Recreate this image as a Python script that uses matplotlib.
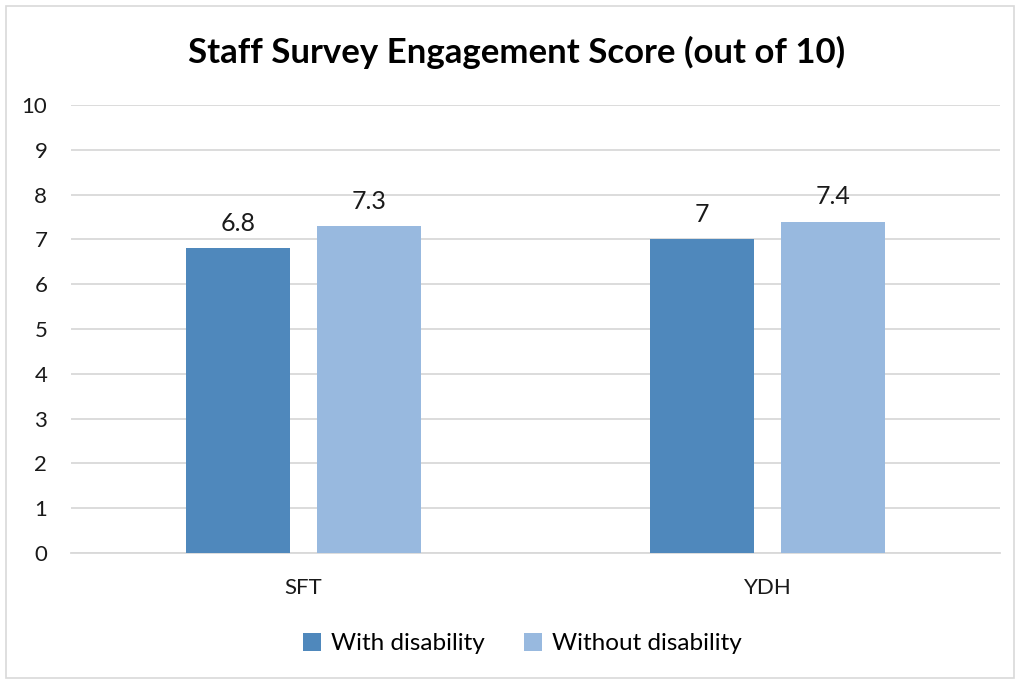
import numpy as np
import matplotlib.pyplot as plt
from matplotlib.patches import Rectangle

plt.rcParams['font.family'] = ['Lato', 'DejaVu Sans']

sites = ['SFT', 'YDH']
with_disability = [6.8, 7.0]
without_disability = [7.3, 7.4]
series_names = ['With disability', 'Without disability']
colors = ['#4F88BC', '#98B9DF']

fig = plt.figure(figsize=(10.18, 6.82), dpi=100)
ax = fig.add_axes([0.0697, 0.189, 0.9123, 0.657])

x = np.arange(len(sites))
width = 0.224
offset = (width + 0.058) / 2

for vals, name, col, sgn in zip([with_disability, without_disability], series_names, colors, [-1, 1]):
    b = ax.bar(x + sgn * offset, vals, width, color=col, label=name, zorder=3)
    for rect, v in zip(b, vals):
        ax.text(rect.get_x() + rect.get_width() / 2, v + 0.3, f'{v:g}',
                ha='center', va='bottom', fontsize=18, color='#1a1a1a')

ax.set_xlim(-0.5, 1.5)
ax.set_ylim(0, 10)
ax.set_yticks(range(0, 11))
ax.set_xticks(x)
ax.set_xticklabels(sites)
ax.yaxis.grid(True, color='#d9d9d9', linewidth=1.3, zorder=0)
ax.tick_params(axis='both', length=0, labelsize=16, colors='#1a1a1a')
ax.tick_params(axis='y', pad=17)
ax.tick_params(axis='x', pad=18)
for side in ['top', 'right', 'left']:
    ax.spines[side].set_visible(False)
ax.spines['bottom'].set_color('#d9d9d9')
ax.spines['bottom'].set_linewidth(1.3)

fig.suptitle('Staff Survey Engagement Score (out of 10)', x=0.507, y=0.947, fontsize=25,
             fontweight='bold', color='black')

fig.legend(loc='center', bbox_to_anchor=(0.513, 0.056), ncol=2, frameon=False,
           fontsize=17.5, handlelength=0.75, handleheight=0.75, handletextpad=0.4,
           columnspacing=1.6)

# light frame around the whole chart
fig.patches.append(Rectangle((0.006, 0.006), 0.99, 0.985, transform=fig.transFigure,
                             fill=False, edgecolor='#d9d9d9', linewidth=1.2))

fig.savefig('out.png', dpi=100)
